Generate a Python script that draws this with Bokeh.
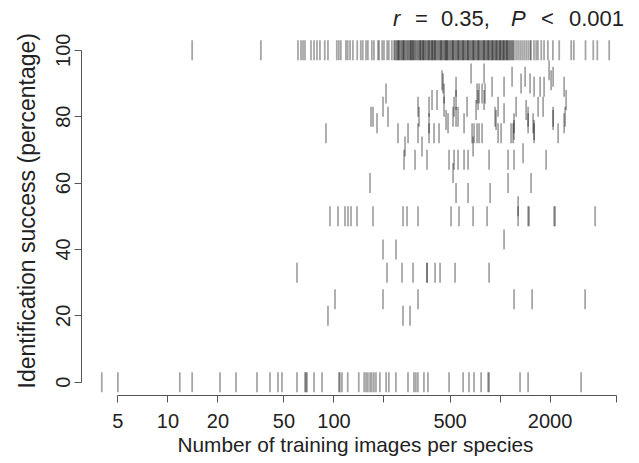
import math
from bokeh.plotting import figure
from bokeh.models import Range1d, FixedTicker, Label, Title
from bokeh.embed import file_html
from bokeh.resources import INLINE

# ---- data: species with 100 % identification success (x = training images)
top_x = [14, 36.3, 60.7, 63.3, 65.1, 66.9, 72.7, 75.8, 79, 82.3, 88, 92, 104, 107,
         110, 118, 121, 125, 130, 138, 145, 149, 156, 160, 169, 174, 184, 187, 195,
         200, 209, 214, 223,
         230, 233, 237, 240, 243, 246, 250, 254, 257, 261, 264, 268, 272, 276, 279,
         283, 287, 291, 295, 299, 304, 308, 312, 317, 321, 326, 331, 335, 340, 344,
         349, 354, 358, 364, 369, 375, 380, 386, 391, 396, 402, 407, 413, 419, 425,
         431, 437, 444, 449, 456, 462, 469, 475, 482, 489, 496, 503, 510, 517, 524,
         531, 539, 546, 554, 562, 570, 578, 586, 594, 602, 611, 619, 628, 637, 646,
         655, 664, 674, 683, 693, 702, 712, 722, 733, 743, 753, 764, 775, 786, 797,
         808, 819, 831, 842, 854, 866, 879, 891, 903, 916, 929, 942, 956, 969, 983,
         997, 1011, 1025, 1040, 1054, 1069, 1084, 1100, 1115, 1131, 1147, 1163, 1180,
         1196, 1213, 1248, 1283, 1320, 1357, 1396, 1436, 1477, 1519,
         245, 262, 290, 300, 330, 345, 372, 390, 405, 440, 470, 480, 520, 560, 600,
         640, 690, 740, 800, 850, 900, 950, 1000, 1050, 1100,
         1535, 1600, 1650, 1690, 1770, 1840, 1940, 2080, 2270, 2680, 2780, 3270,
         3640, 3850, 4540]

# ---- species with intermediate success
mid_x = [94.6, 105.7, 116.5, 121.4, 126.6, 137.6, 171.8, 260.4, 275.4, 320.6, 506.8,
         566.2, 687.7, 835.2, 1284, 1475, 1495, 2115, 2145, 3735,
         543.2, 641.6, 870.7,
         1284,
         164.8, 1117, 1537,
         521.1,
         264.1, 307.6, 363.3, 492.9, 528.4, 558.5, 607, 641.6, 858.6, 1117, 1214, 1893,
         1376,
         267.7, 338.9, 687.7,
         89.5, 242.9, 279.2, 320.6, 373.5, 400.4, 429.1, 678.3, 697.4, 727, 747.4,
         779.2, 972.7, 1014, 1165, 1198, 1603, 2236,
         1214, 1603,
         181.6, 373.5, 486.1, 607, 1214, 1475, 1580, 2430,
         472.9, 946, 2086,
         167.1, 171.8, 211.5, 325.1, 521.1, 543.2, 558.5, 933, 1475, 2086, 2464,
         1057,
         717, 1435,
         197.3, 320.6, 373.5, 459.9, 528.4, 632.8, 972.7, 1249, 1694, 1816,
         389.4, 417.3, 543.2, 737.2, 801.1, 2498,
         205.7, 459.9, 727, 747.4, 779.2, 812.3,
         543.2, 895.1, 1057, 1603, 1742, 1841, 2430,
         453.6, 1338, 1516,
         447.3, 2029,
         1181, 1415, 2086,
         668.9, 801.1,
         1973,
         1057,
         197.3, 236.3,
         59.9, 208.6, 256.8, 299.2, 363.3, 363.3, 405.9, 435.1, 535.7, 858.6,
         101.4, 197.3, 320.6, 1214, 1559, 3251,
         92, 260.4, 287.1]
mid_y = [50] * 20 + [57] * 3 + [53] + [60] * 3 + [63] + [67] * 12 + [69] + [71] * 3 + \
        [75] * 18 + [76] * 2 + [78] * 8 + [79] * 3 + [80] * 11 + [81] + [82] * 2 + \
        [83] * 10 + [85] * 6 + [87] * 6 + [89] * 7 + [90] * 3 + [91] * 2 + [92] * 3 + \
        [93] * 2 + [94] + [43] + [40] * 2 + [33] * 10 + [25] * 6 + [20] * 3

# ---- species never identified
bottom_x = [4.0, 5.0, 11.8, 14.0, 20.6, 25.7, 34.4, 41.2, 46.0, 48.6, 59.9, 66.9, 67.8,
            68.8, 75.8, 84.7, 107, 108.5, 111.7, 121, 141, 152, 156, 160, 165, 169,
            174, 179, 189, 206, 214, 236, 279, 303, 311, 320, 348, 368, 493, 599, 650,
            697, 769, 847, 859, 1319, 1475, 3076]

x_ticks = [5, 10, 20, 50, 100, 200, 500, 1000, 2000, 5000]
x_tick_text = ["5", "10", "20", "50", "100", "", "500", "", "2000", ""]
y_ticks = [0, 20, 40, 60, 80, 100]

xs = top_x + mid_x + bottom_x
ys = [100] * len(top_x) + mid_y + [0] * len(bottom_x)

lo, hi = math.log10(min(xs)), math.log10(max(xs))
pad = 0.04 * (hi - lo)
ylo, yhi = min(ys), max(ys)
ypad = 0.04 * (yhi - ylo)
TITLE_BAND = 10.4   # extra room above the data (in y units) that holds the r / P label

FONT = "Liberation Sans"

p = figure(x_axis_type="log",
           x_range=Range1d(10 ** (lo - pad), 10 ** (hi + pad)),
           y_range=Range1d(ylo - ypad, yhi + ypad + TITLE_BAND),
           frame_width=548, frame_height=393,
           min_border_left=81, min_border_right=2, min_border_top=2, min_border_bottom=64,
           output_backend="svg", toolbar_location=None)
p.outline_line_color = None
p.grid.visible = False
p.background_fill_color = "white"

p.scatter(xs, ys, marker="dash", size=20, angle=math.pi / 2,
          line_color="black", line_alpha=0.35, line_width=1.8)

xa = p.xaxis[0]
xa.ticker = FixedTicker(ticks=x_ticks, minor_ticks=[])
xa.major_label_overrides = {t: s for t, s in zip(x_ticks, x_tick_text)}
xa.bounds = (min(x_ticks), max(x_ticks))
xa.axis_label = "Number of training images per species"

ya = p.yaxis[0]
ya.ticker = FixedTicker(ticks=y_ticks, minor_ticks=[])
ya.bounds = (min(y_ticks), max(y_ticks))
ya.major_label_orientation = "vertical"

for ax in (xa, ya):
    ax.axis_line_color = "#555555"
    ax.major_tick_line_color = "#555555"
    ax.major_tick_out = 7
    ax.major_tick_in = 0
    ax.minor_tick_out = 0
    ax.minor_tick_in = 0
    ax.major_label_text_font = FONT
    ax.major_label_text_color = "#222222"
    ax.axis_label_text_font = FONT
    ax.axis_label_text_font_style = "normal"
    ax.axis_label_text_color = "#222222"

xa.major_label_text_font_size = "20px"
xa.axis_label_text_font_size = "20.8px"
xa.major_label_standoff = 11
xa.axis_label_standoff = 2
ya.major_label_text_font_size = "20px"
ya.major_label_standoff = 4

# y-axis title, centred on the 0-100 data band (not on the whole frame)
p.add_layout(Title(text="Identification success (percentage)", align="left", offset=7,
                   standoff=24, vertical_align="top", text_font=FONT,
                   text_font_style="normal", text_font_size="23px",
                   text_color="#222222"), "left")

# annotation  r = 0.35,  P < 0.001
title_x = 226.6
title_y = 109.6
pieces = [("r", "italic", 0), ("=", "normal", 22), ("0.35,", "normal", 48),
          ("P", "italic", 118), ("<", "normal", 148), ("0.001", "normal", 176)]
for txt, style, off in pieces:
    p.add_layout(Label(x=title_x, y=title_y, x_offset=off, text=txt,
                       text_font=FONT, text_font_style=style, text_font_size="22px",
                       text_color="#222222", text_baseline="middle", text_align="left"))

open("out.html", "w").write(file_html(p, INLINE))
